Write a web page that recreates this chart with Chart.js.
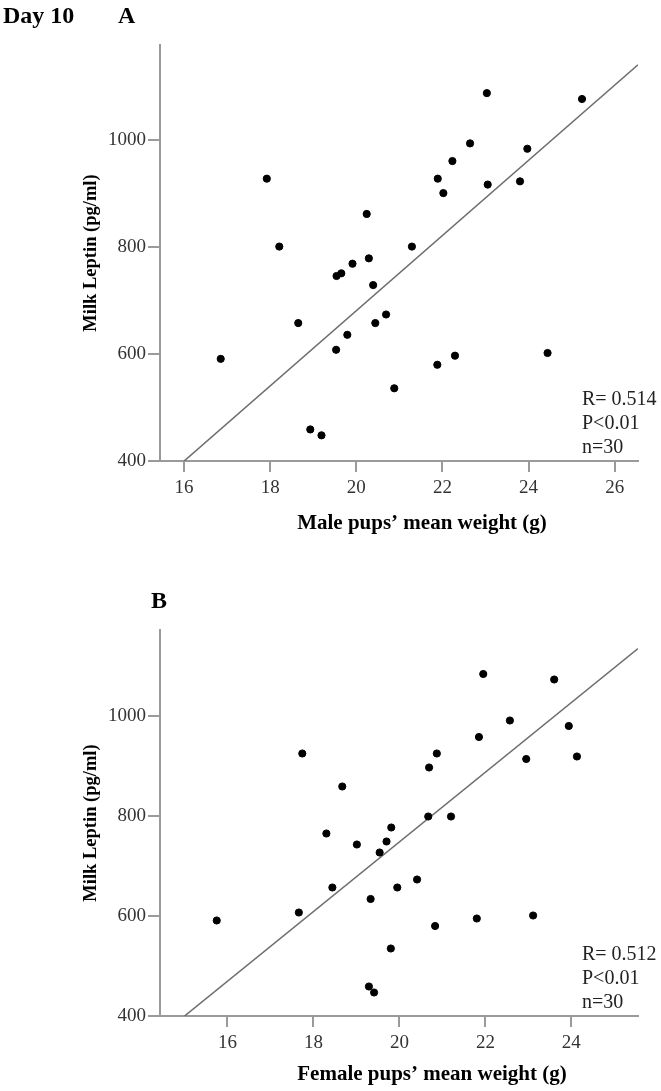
<!DOCTYPE html>
<html>
<head>
<meta charset="utf-8">
<script src="https://cdn.jsdelivr.net/npm/chart.js@4.4.0/dist/chart.umd.min.js"></script>
<style>
  body { margin: 0; background: #fff; }
  .page { position: relative; width: 661px; height: 1091px; }
  .panel { position: absolute; left: 0; width: 661px; }
  #boxA { top: 0; height: 545px; }
  #boxB { top: 545px; height: 546px; }
  .lbl { position: absolute; font-family: "Liberation Serif", serif; font-weight: bold; font-size: 24px; color: #000; line-height: 1; }
</style>
</head>
<body>
<div class="page">
  <div class="panel" id="boxA"><canvas id="chartA"></canvas></div>
  <div class="panel" id="boxB"><canvas id="chartB"></canvas></div>
  <div class="lbl" style="left:3px; top:3px;">Day 10</div>
  <div class="lbl" style="left:118px; top:3px;">A</div>
  <div class="lbl" style="left:151px; top:588px;">B</div>
</div>
<script>
// Panel A - male pups
const maleWeight = [17.92, 18.21, 20.24, 20.29, 19.91, 19.54, 19.65, 20.39, 23.03, 25.24,
                    22.64, 23.97, 22.23, 21.89, 22.02, 23.05, 23.80, 21.29, 16.85, 18.65,
                    18.93, 19.19, 19.53, 19.79, 20.44, 20.69, 20.88, 21.88, 22.29, 24.44];
const maleLeptin = [928, 801, 862, 779, 769, 746, 751, 729, 1088, 1077,
                    994, 984, 961, 928, 901, 917, 923, 801, 591, 658,
                    459, 448, 608, 636, 658, 674, 536, 580, 597, 602];
const maleFitX = [16, 26.54];
const maleFitY = [400, 1141];
const maleTicks = [16, 18, 20, 22, 24, 26];
const maleStats = ['R= 0.514', 'P<0.01', 'n=30'];

// Panel B - female pups
const femaleWeight = [17.74, 18.67, 21.95, 23.60, 22.57, 23.94, 21.85, 20.87, 20.69, 22.95,
                      24.13, 18.30, 19.81, 19.01, 19.70, 19.54, 18.44, 19.95, 19.33, 17.66,
                      15.75, 19.80, 19.29, 19.41, 20.67, 21.20, 20.41, 20.83, 21.80, 23.11];
const femaleLeptin = [925, 859, 1084, 1073, 991, 980, 958, 925, 897, 914,
                      919, 765, 777, 743, 749, 727, 657, 657, 634, 607,
                      591, 535, 459, 447, 799, 799, 673, 580, 595, 601];
const femaleFitX = [15, 25.55];
const femaleFitY = [400, 1135];
const femaleTicks = [16, 18, 20, 22, 24];
const femaleStats = ['R= 0.512', 'P<0.01', 'n=30'];

const leptinTicks = [400, 600, 800, 1000];

const serif = '"Liberation Serif", "Times New Roman", serif';
const axisGray = '#9a9a9a';

// R / P / n in the lower right corner, plus the x axis title (sits a bit right of centre)
const textPlugin = {
    id: 'texts',
    afterDraw(chart, args, opts) {
        const { ctx, chartArea } = chart;
        ctx.save();
        ctx.font = '20px ' + serif;
        ctx.fillStyle = '#222';
        ctx.textBaseline = 'middle';
        ctx.textAlign = 'left';
        opts.lines.forEach((t, i) => {
            ctx.fillText(t, chartArea.right - 56, chartArea.bottom - 61 + i * 24);
        });
        ctx.font = 'bold 21px ' + serif;
        ctx.fillStyle = '#000';
        ctx.textAlign = 'center';
        ctx.fillText(opts.xTitle, chartArea.left + opts.titleShift, chart.height - opts.titleBottom);
        ctx.restore();
    }
};

function toPoints(xs, ys) {
    return xs.map((x, i) => ({ x: x, y: ys[i] }));
}

function makeChart(id, p) {
    new Chart(document.getElementById(id), {
        type: 'scatter',
        data: {
            datasets: [
                {
                    data: toPoints(p.weight, p.leptin),
                    backgroundColor: '#000',
                    borderColor: '#000',
                    pointRadius: 3.6,
                    pointHoverRadius: 3.6
                },
                {
                    data: toPoints(p.fitX, p.fitY),
                    showLine: true,
                    borderColor: '#6e6e6e',
                    borderWidth: 1.6,
                    pointRadius: 0
                }
            ]
        },
        options: {
            responsive: true,
            maintainAspectRatio: false,
            animation: false,
            events: [],
            layout: { padding: { top: p.top, right: 23, left: 0, bottom: 0 } },
            plugins: {
                legend: { display: false },
                tooltip: { enabled: false },
                texts: { lines: p.stats, xTitle: p.xTitle, titleShift: p.titleShift, titleBottom: p.titleBottom }
            },
            scales: {
                x: {
                    type: 'linear',
                    min: p.xMin,
                    max: p.xMax,
                    afterBuildTicks: s => { s.ticks = p.xTicks.map(v => ({ value: v })); },
                    afterFit: s => { s.height = p.xHeight; },
                    border: { display: true, color: axisGray, width: 2 },
                    grid: { drawOnChartArea: false, color: axisGray, lineWidth: 2, tickLength: 11 },
                    ticks: { font: { family: serif, size: 19 }, color: '#333', padding: 5, maxRotation: 0 }
                },
                y: {
                    type: 'linear',
                    min: 400,
                    max: p.yMax,
                    afterBuildTicks: s => { s.ticks = leptinTicks.map(v => ({ value: v })); },
                    afterFit: s => { s.width = 160; },
                    border: { display: true, color: axisGray, width: 2 },
                    grid: { drawOnChartArea: false, color: axisGray, lineWidth: 2, tickLength: 12 },
                    ticks: { font: { family: serif, size: 19 }, color: '#333', padding: 2, callback: v => String(v) },
                    title: {
                        display: true,
                        text: 'Milk Leptin (pg/ml)',
                        font: { family: serif, size: 18.5, weight: 'bold' },
                        color: '#000',
                        padding: { top: 80 }
                    }
                }
            }
        },
        plugins: [textPlugin]
    });
}

makeChart('chartA', {
    weight: maleWeight, leptin: maleLeptin, fitX: maleFitX, fitY: maleFitY,
    xTicks: maleTicks, stats: maleStats, xMin: 15.44, xMax: 26.54, yMax: 1178,
    top: 45, xHeight: 84, titleShift: 262, titleBottom: 21,
    xTitle: 'Male pups\u2019 mean weight (g)'
});

makeChart('chartB', {
    weight: femaleWeight, leptin: femaleLeptin, fitX: femaleFitX, fitY: femaleFitY,
    xTicks: femaleTicks, stats: femaleStats, xMin: 14.43, xMax: 25.55, yMax: 1172,
    top: 85, xHeight: 75, titleShift: 272, titleBottom: 16,
    xTitle: 'Female pups\u2019 mean weight (g)'
});
</script>
</body>
</html>
